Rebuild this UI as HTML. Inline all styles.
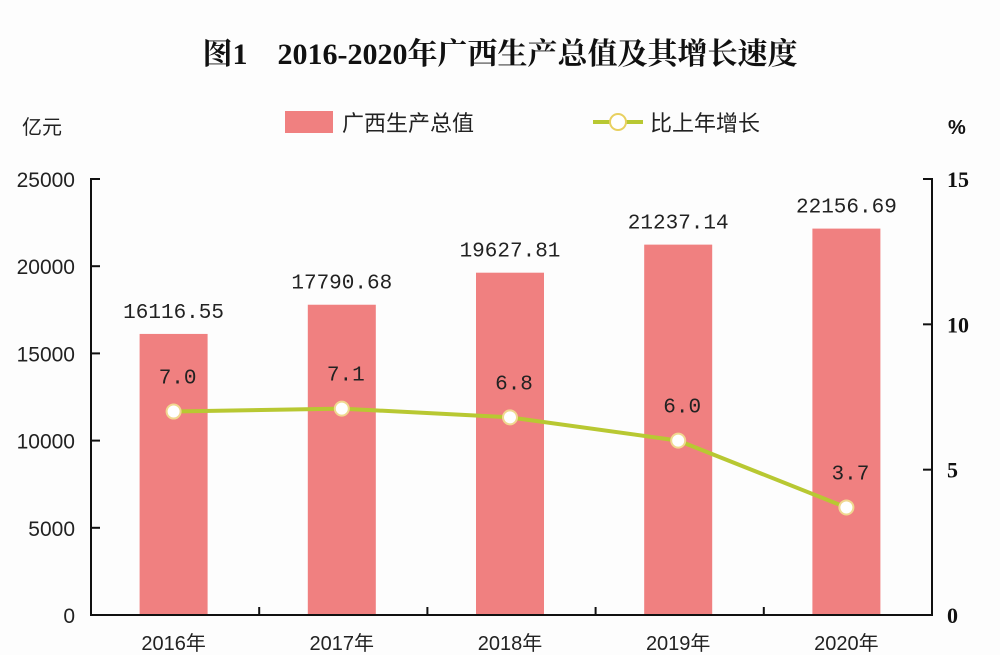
<!DOCTYPE html>
<html><head><meta charset="utf-8"><style>
body{margin:0;background:#fdfdfd;}
svg{display:block;font-family:"Liberation Sans","Noto Sans CJK SC",sans-serif;}
</style></head><body>
<svg id="chart" width="1000" height="655">
<text x="500" y="64" text-anchor="middle" font-family="'Liberation Serif','Noto Serif CJK SC',serif" font-weight="bold" font-size="30" fill="#111">图1　2016-2020年广西生产总值及其增长速度</text>
<text x="22" y="134" font-size="20" fill="#222">亿元</text>
<text x="948" y="134" font-size="20" font-weight="bold" fill="#111">%</text>
<g>
<rect x="285" y="111" width="48" height="22" fill="#f08080"/>
<text x="342" y="131" font-size="22" fill="#222">广西生产总值</text>
<line x1="593" y1="122" x2="643" y2="122" stroke="#b8c832" stroke-width="4"/>
<circle cx="618" cy="122" r="8" fill="#fff" stroke="#e8d060" stroke-width="2"/>
<text x="650" y="131" font-size="22" fill="#222">比上年增长</text>
</g>
<g id="plot"></g>
</svg>
<script>
const categories=["2016年","2017年","2018年","2019年","2020年"];
const gdp=[16116.55,17790.68,19627.81,21237.14,22156.69];
const growth=[7.0,7.1,6.8,6.0,3.7];
const leftTicks=[0,5000,10000,15000,20000,25000];
const rightTicks=[0,5,10,15];
const L=91,R=932,T=179,B=615;
const yL=v=>B-v/25000*(B-T);
const yR=v=>B-v/15*(B-T);
const cw=(R-L)/categories.length;
const xC=i=>L+cw*(i+0.5)-1.5;
const NS="http://www.w3.org/2000/svg";
const g=document.getElementById('plot');
function mk(t,a,txt){const e=document.createElementNS(NS,t);for(const k in a)e.setAttribute(k,a[k]);if(txt!=null)e.textContent=txt;g.appendChild(e);return e;}
gdp.forEach((v,i)=>{
 const r=mk('rect',{x:xC(i)-34,y:yL(v),width:68,height:B-yL(v),fill:'#f08080'});
 
 
 const t=mk('text',{x:xC(i),y:yL(v)-16,'text-anchor':'middle','font-size':21,fill:'#222','font-family':"'Liberation Mono',monospace"},v.toFixed(2));
 
 
});
let ax=mk('path',{d:`M${L+9} ${T}H${L}V${B}H${R}V${T}H${R-9}`,fill:'none',stroke:'#111','stroke-width':2});


leftTicks.forEach(v=>{
 mk('line',{x1:L,x2:L+9,y1:yL(v),y2:yL(v),stroke:'#111','stroke-width':2});
 const t=mk('text',{x:L-16,y:yL(v)+8,'text-anchor':'end','font-size':21,fill:'#222'},String(v));
 
 
});
rightTicks.forEach(v=>{
 mk('line',{x1:R-9,x2:R,y1:yR(v),y2:yR(v),stroke:'#111','stroke-width':2});
 const t=mk('text',{x:947,y:yR(v)+8,'font-size':22,'font-weight':'bold',fill:'#111','font-family':"'Liberation Serif',serif"},String(v));
 
 
});
categories.forEach((c,i)=>{
 if(i>0)mk('line',{x1:L+cw*i,x2:L+cw*i,y1:B,y2:B-8,stroke:'#111','stroke-width':2});
 const t=mk('text',{x:xC(i),y:650,'text-anchor':'middle','font-size':20,fill:'#222'},c);
 
 
});
const pl=mk('polyline',{points:growth.map((v,i)=>xC(i)+','+yR(v)).join(' '),fill:'none',stroke:'#b8c832','stroke-width':4});


growth.forEach((v,i)=>{
 const c=mk('circle',{cx:xC(i),cy:yR(v),r:7,fill:'#fff',stroke:'#f0d890','stroke-width':2});
 
 
 const t=mk('text',{x:xC(i)+4,y:yR(v)-28,'text-anchor':'middle','font-size':21,fill:'#222','font-family':"'Liberation Mono',monospace"},v.toFixed(1));
 
 
});
</script>
</body></html>
